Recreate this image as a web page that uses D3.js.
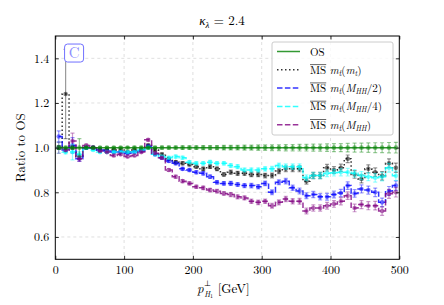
<!DOCTYPE html>
<html>
<head>
<meta charset="utf-8">
<script src="https://cdn.jsdelivr.net/npm/d3@7"></script>
<style>
  body { margin: 0; background: #fff; }
</style>
</head>
<body>
<div id="chart"></div>
<script>
// bin centres, 10 GeV bins from 0 to 500
const binCenters = [5,15,25,35,45,55,65,75,85,95,105,115,125,135,145,155,165,175,185,195,
  205,215,225,235,245,255,265,275,285,295,305,315,325,335,345,355,365,375,385,395,
  405,415,425,435,445,455,465,475,485,495];

const ratioOS = binCenters.map(() => 1.0);
const ratioMtMt = [1.0,1.24,1.0,0.96,1.0,1.0,0.99,0.99,0.99,0.99,
  0.98,0.99,0.99,1.01,0.99,0.97,0.95,0.935,0.93,0.925,
  0.915,0.905,0.915,0.905,0.88,0.89,0.885,0.885,0.88,0.88,
  0.875,0.875,0.895,0.905,0.905,0.905,0.85,0.875,0.875,0.91,
  0.9,0.91,0.95,0.88,0.86,0.905,0.89,0.874,0.93,0.91];
const ratioHalf = [1.05,0.99,1.01,0.95,1.0,1.0,0.99,0.985,0.98,0.98,
  0.975,0.98,0.985,1.005,0.97,0.955,0.94,0.93,0.905,0.9,
  0.89,0.885,0.87,0.845,0.84,0.84,0.835,0.83,0.83,0.825,
  0.84,0.8,0.845,0.85,0.82,0.806,0.785,0.79,0.78,0.78,
  0.79,0.797,0.83,0.795,0.815,0.81,0.8,0.755,0.806,0.83];
const ratioQuarter = [1.0,0.98,0.98,0.97,1.0,0.99,0.98,0.98,0.98,0.98,
  0.98,0.98,0.99,1.0,0.97,0.96,0.955,0.96,0.955,0.935,
  0.93,0.93,0.935,0.93,0.93,0.92,0.915,0.9,0.9,0.9,
  0.905,0.905,0.92,0.915,0.915,0.915,0.865,0.875,0.875,0.885,
  0.888,0.89,0.89,0.885,0.875,0.87,0.865,0.87,0.91,0.874];
const ratioFull = [1.0,0.99,1.03,0.95,1.01,1.0,0.985,0.98,0.965,0.97,
  0.96,0.965,0.98,1.035,0.975,0.955,0.9,0.87,0.85,0.84,
  0.825,0.82,0.81,0.805,0.795,0.79,0.78,0.775,0.76,0.755,
  0.76,0.74,0.755,0.77,0.76,0.76,0.716,0.73,0.73,0.74,
  0.748,0.76,0.785,0.73,0.745,0.74,0.74,0.716,0.793,0.8];

const errOS = [0.008,0.006,0.006,0.04,0.005,0.005,0.005,0.005,0.005,0.005,
  0.005,0.006,0.006,0.006,0.006,0.007,0.007,0.007,0.008,0.008,
  0.008,0.009,0.009,0.009,0.010,0.010,0.010,0.011,0.011,0.012,
  0.012,0.013,0.013,0.014,0.014,0.015,0.015,0.016,0.016,0.017,
  0.018,0.018,0.019,0.020,0.020,0.021,0.022,0.022,0.023,0.024];
const errMtMt = [0.008,0.2,0.006,0.01,0.005,0.005,0.005,0.005,0.005,0.005,
  0.005,0.005,0.005,0.006,0.006,0.006,0.006,0.007,0.007,0.007,
  0.007,0.008,0.008,0.008,0.008,0.009,0.009,0.009,0.01,0.01,
  0.01,0.011,0.011,0.012,0.012,0.013,0.013,0.014,0.014,0.015,
  0.015,0.016,0.017,0.017,0.018,0.018,0.019,0.019,0.02,0.021];
const errMS = [0.025,0.008,0.035,0.012,0.005,0.005,0.005,0.005,0.005,0.005,
  0.005,0.005,0.005,0.006,0.006,0.006,0.006,0.007,0.007,0.007,
  0.007,0.008,0.008,0.008,0.008,0.009,0.009,0.009,0.01,0.01,
  0.01,0.011,0.011,0.012,0.012,0.013,0.013,0.014,0.014,0.015,
  0.015,0.016,0.017,0.017,0.018,0.018,0.019,0.019,0.02,0.021];

const xTicks = [0, 100, 200, 300, 400, 500];
const yTicks = [0.6, 0.8, 1.0, 1.2, 1.4];

const series = [
  { key: "mtmt",    values: ratioMtMt,    err: errMtMt, color: "black",  dash: "1.5,2.5", arg: ["m", "t", ""] },
  { key: "half",    values: ratioHalf,    err: errMS,   color: "blue",   dash: "5.5,2.4", arg: ["M", "HH", "/2"] },
  { key: "quarter", values: ratioQuarter, err: errMS,   color: "cyan",   dash: "5.5,2.4", arg: ["M", "HH", "/4"] },
  { key: "full",    values: ratioFull,    err: errMS,   color: "purple", dash: "5.5,2.4", arg: ["M", "HH", ""] },
  { key: "os",      values: ratioOS,      err: errOS,   color: "green",  dash: null }
];

const FONT = "Latin Modern Roman, Liberation Serif, serif";
const width = 444, height = 305;
const margin = { top: 36, right: 44.7, bottom: 45.7, left: 55.3 };
const iw = width - margin.left - margin.right;
const ih = height - margin.top - margin.bottom;

const svg = d3.select("#chart").append("svg")
  .attr("width", width).attr("height", height)
  .attr("font-family", FONT);

const x = d3.scaleLinear().domain([0, 500]).range([0, iw]);
const y = d3.scaleLinear().domain([0.5, 1.5]).range([ih, 0]);

const g = svg.append("g").attr("transform", `translate(${margin.left},${margin.top})`);

// grid
g.append("g").selectAll("line").data(xTicks.slice(1, -1)).join("line")
  .attr("x1", d => x(d)).attr("x2", d => x(d)).attr("y1", 0).attr("y2", ih)
  .attr("stroke", "#b0b0b0").attr("stroke-opacity", 0.5).attr("stroke-width", 0.8).attr("stroke-dasharray", "3,3");
g.append("g").selectAll("line").data(yTicks).join("line")
  .attr("x1", 0).attr("x2", iw).attr("y1", d => y(d)).attr("y2", d => y(d))
  .attr("stroke", "#b0b0b0").attr("stroke-opacity", 0.5).attr("stroke-width", 0.8).attr("stroke-dasharray", "3,3");

svg.append("clipPath").attr("id", "plotclip")
  .append("rect").attr("width", iw).attr("height", ih);
const plot = g.append("g").attr("clip-path", "url(#plotclip)");

const line = d3.line().x((d, i) => x(binCenters[i])).y(d => y(d)).curve(d3.curveStep);

series.forEach(s => {
  const sg = plot.append("g");
  sg.append("path")
    .attr("d", line(s.values))
    .attr("fill", "none")
    .attr("stroke", s.color).attr("stroke-opacity", 0.8)
    .attr("stroke-width", 1.5)
    .attr("stroke-dasharray", s.dash);
  const eb = sg.append("g").attr("stroke", s.color).attr("stroke-opacity", 0.4).attr("stroke-width", 1.2);
  s.values.forEach((v, i) => {
    const cx = x(binCenters[i]), e = s.err[i];
    eb.append("line").attr("x1", cx).attr("x2", cx).attr("y1", y(v - e)).attr("y2", y(v + e));
    eb.append("line").attr("x1", cx - 2).attr("x2", cx + 2).attr("y1", y(v - e)).attr("y2", y(v - e));
    eb.append("line").attr("x1", cx - 2).attr("x2", cx + 2).attr("y1", y(v + e)).attr("y2", y(v + e));
  });
  sg.append("g").selectAll("circle").data(s.values).join("circle")
    .attr("cx", (d, i) => x(binCenters[i])).attr("cy", d => y(d))
    .attr("r", 2.3).attr("fill", s.color).attr("fill-opacity", 0.5);
});

// "C" annotation box
const cbox = g.append("g").attr("transform", `translate(${x(13.5)},${y(1.464)})`);
cbox.append("rect").attr("x", 0).attr("y", 0).attr("width", 19).attr("height", 18).attr("rx", 3)
  .attr("fill", "white").attr("stroke", "#7070ff").attr("stroke-width", 1);
cbox.append("text").attr("x", 9.5).attr("y", 14).attr("text-anchor", "middle")
  .attr("font-size", 15).attr("fill", "#8f8fff").text("C");

// axes with inward ticks on all four sides
const axB = g.append("g").attr("transform", `translate(0,${ih})`)
  .call(d3.axisBottom(x).tickValues(xTicks).tickSize(-3.5).tickPadding(6));
const axL = g.append("g")
  .call(d3.axisLeft(y).tickValues(yTicks).tickFormat(d3.format(".1f")).tickSize(-3.5).tickPadding(6));
const axT = g.append("g")
  .call(d3.axisTop(x).tickValues(xTicks).tickSize(-3.5).tickFormat(""));
const axR = g.append("g").attr("transform", `translate(${iw},0)`)
  .call(d3.axisRight(y).tickValues(yTicks).tickSize(-3.5).tickFormat(""));
[axB, axL, axT, axR].forEach(a => {
  a.attr("font-family", FONT).attr("font-size", 12);
  a.select(".domain").remove();
  a.selectAll("line").attr("stroke", "#000").attr("stroke-width", 0.8);
  a.selectAll("text").attr("fill", "#000");
});
g.append("rect").attr("width", iw).attr("height", ih)
  .attr("fill", "none").attr("stroke", "#000").attr("stroke-width", 1);

// legend
const leg = g.append("g").attr("transform", `translate(${272 - margin.left},${42 - margin.top})`);
leg.append("rect").attr("width", 121).attr("height", 93).attr("rx", 2)
  .attr("fill", "white").attr("fill-opacity", 0.8).attr("stroke", "#cccccc").attr("stroke-width", 1);
const legOrder = ["os", "mtmt", "half", "quarter", "full"];
legOrder.forEach((k, i) => {
  const s = series.find(d => d.key === k);
  const ly = 9.5 + i * 18.3;
  const row = leg.append("g").attr("transform", `translate(0,${ly})`);
  row.append("line").attr("x1", 5).attr("x2", 28).attr("y1", 0).attr("y2", 0)
    .attr("stroke", s.color).attr("stroke-opacity", 0.8).attr("stroke-width", 1.5)
    .attr("stroke-dasharray", s.dash);
  if (k === "os") {
    row.append("text").attr("x", 38).attr("y", 4).attr("font-size", 11).text("OS");
    return;
  }
  const ms = row.append("text").attr("x", 38).attr("y", 4).attr("font-size", 11).text("MS");
  const w = ms.node().getComputedTextLength();
  row.append("line").attr("x1", 38).attr("x2", 38 + w).attr("y1", -5.2).attr("y2", -5.2)
    .attr("stroke", "#000").attr("stroke-width", 0.6);
  const t = row.append("text").attr("x", 38 + w + 3.5).attr("y", 4).attr("font-size", 11);
  t.append("tspan").attr("font-style", "italic").text("m");
  t.append("tspan").attr("font-style", "italic").attr("font-size", 8).attr("dy", 2).text("t");
  t.append("tspan").attr("dy", -2).text("(");
  t.append("tspan").attr("font-style", "italic").text(s.arg[0]);
  t.append("tspan").attr("font-style", "italic").attr("font-size", 7.5).attr("dy", 2).text(s.arg[1]);
  t.append("tspan").attr("dy", -2).text(s.arg[2] + ")");
});

// title
const title = svg.append("text").attr("x", 222).attr("y", 25).attr("text-anchor", "middle").attr("font-size", 13);
title.append("tspan").attr("font-style", "italic").text("κ");
title.append("tspan").attr("font-style", "italic").attr("font-size", 9).attr("dy", 3).text("λ");
title.append("tspan").attr("dy", -3).text(" = 2.4");

// x axis label, pieces placed side by side (superscript stacked above subscript)
const xl0 = 197;
const pTxt = svg.append("text").attr("x", xl0).attr("y", 293).attr("font-size", 13)
  .attr("font-style", "italic").text("p");
const pw = pTxt.node().getComputedTextLength();
svg.append("text").attr("x", xl0 + pw + 0.5).attr("y", 285.5).attr("font-size", 8).text("⊥");
const hTxt = svg.append("text").attr("x", xl0 + pw + 0.5).attr("y", 297).attr("font-size", 8);
hTxt.append("tspan").attr("font-style", "italic").text("H");
hTxt.append("tspan").attr("font-size", 6).attr("dy", 1.2).text("1");
const hw = hTxt.node().getComputedTextLength();
svg.append("text").attr("x", xl0 + pw + hw + 5).attr("y", 293).attr("font-size", 13).text("[GeV]");

svg.append("text").attr("transform", `translate(25,${margin.top + ih / 2}) rotate(-90)`)
  .attr("text-anchor", "middle").attr("font-size", 13).text("Ratio to OS");
</script>
</body>
</html>
